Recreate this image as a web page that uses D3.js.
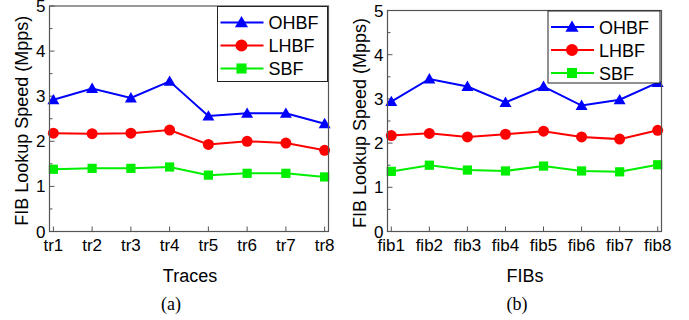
<!DOCTYPE html>
<meta charset="utf-8">
<title>FIB Lookup Speed</title>
<script src="https://d3js.org/d3.v7.min.js"></script>
<style>
  body { margin: 0; background: #fff; }
  text { font-family: "Liberation Sans", Arial, sans-serif; fill: #000; }
</style>
<body>
</body>
<script>
  width = 689;
  height = 320;

  // data
  const traces = ["tr1", "tr2", "tr3", "tr4", "tr5", "tr6", "tr7", "tr8"];
  const traceOHBF = [2.92, 3.17, 2.96, 3.33, 2.56, 2.62, 2.62, 2.39];
  const traceLHBF = [2.18, 2.17, 2.18, 2.25, 1.93, 2.00, 1.96, 1.80];
  const traceSBF  = [1.38, 1.40, 1.40, 1.43, 1.25, 1.29, 1.29, 1.21];

  const fibs = ["fib1", "fib2", "fib3", "fib4", "fib5", "fib6", "fib7", "fib8"];
  const fibOHBF = [2.94, 3.45, 3.28, 2.92, 3.28, 2.85, 2.98, 3.37];
  const fibLHBF = [2.17, 2.22, 2.14, 2.20, 2.27, 2.14, 2.09, 2.29];
  const fibSBF  = [1.36, 1.50, 1.39, 1.37, 1.48, 1.37, 1.35, 1.51];

  const seriesNames = ["OHBF", "LHBF", "SBF"];
  const yTicks = [0, 1, 2, 3, 4, 5];
  const yMinor = [0.5, 1.5, 2.5, 3.5, 4.5];

  const colors = { OHBF: "#0000ff", LHBF: "#ff0000", SBF: "#00ee00" };
  const shapes = { OHBF: d3.symbolTriangle, LHBF: d3.symbolCircle, SBF: d3.symbolSquare };
  const sizes  = { OHBF: 62, LHBF: 95, SBF: 85 };

  const svg = d3.select("body").append("svg")
      .attr("width", width).attr("height", height);

  ////////////////////////////////////////////////////////////
  ////////////////////// Draw one panel //////////////////////
  ////////////////////////////////////////////////////////////

  function panel(opt) {
    const x = d3.scalePoint().domain(opt.cats).range([opt.left, opt.right]).padding(0.1);
    const y = d3.scaleLinear().domain([0, 5]).range([opt.bottom, opt.top]);
    const g = svg.append("g");

    // ticks (inward)
    g.selectAll(".ymaj").data(yTicks).join("line")
      .attr("x1", opt.left).attr("x2", opt.left + 5)
      .attr("y1", d => y(d)).attr("y2", d => y(d))
      .attr("stroke", "#555").attr("stroke-width", 1);
    g.selectAll(".ymin").data(yMinor).join("line")
      .attr("x1", opt.left).attr("x2", opt.left + 3)
      .attr("y1", d => y(d)).attr("y2", d => y(d))
      .attr("stroke", "#555").attr("stroke-width", 1);
    g.selectAll(".xt").data(opt.cats).join("line")
      .attr("x1", d => x(d)).attr("x2", d => x(d))
      .attr("y1", opt.bottom).attr("y2", opt.bottom - 5)
      .attr("stroke", "#555").attr("stroke-width", 1);

    // tick labels
    g.selectAll(".yl").data(yTicks).join("text")
      .attr("x", opt.left - 4).attr("y", d => y(d) + 6)
      .attr("text-anchor", "end").style("font-size", "17px")
      .text(d => d);
    g.selectAll(".xl").data(opt.cats).join("text")
      .attr("x", d => x(d)).attr("y", opt.bottom + 19)
      .attr("text-anchor", "middle").style("font-size", "17px")
      .text(d => d);

    // axis titles
    g.append("text")
      .attr("transform", `translate(${opt.left - 28},${(opt.top + opt.bottom) / 2 + 2}) rotate(-90)`)
      .attr("text-anchor", "middle").attr("dy", "0.35em").style("font-size", "18px")
      .text("FIB Lookup Speed (Mpps)");
    g.append("text")
      .attr("x", opt.xTitleX).attr("y", opt.bottom + 50)
      .attr("text-anchor", "middle").style("font-size", "18px")
      .text(opt.xTitle);
    g.append("text")
      .attr("x", opt.capX).attr("y", opt.bottom + 78)
      .attr("text-anchor", "middle")
      .style("font-family", "'Liberation Serif', 'Times New Roman', serif").style("font-size", "18px")
      .text(opt.caption);

    // lines + markers
    const line = d3.line().x((d, i) => x(opt.cats[i])).y(d => y(d));
    seriesNames.forEach(name => {
      const vals = opt.data[name];
      g.append("path").datum(vals)
        .attr("d", line).attr("fill", "none")
        .attr("stroke", colors[name]).attr("stroke-width", 2);
      g.selectAll(".m" + name).data(vals).join("path")
        .attr("d", d3.symbol().type(shapes[name]).size(sizes[name]))
        .attr("transform", (d, i) => `translate(${x(opt.cats[i])},${y(d) + (name === "OHBF" ? 1 : 0)})`)
        .attr("fill", colors[name]);
    });

    // frame
    g.append("rect")
      .attr("x", opt.left).attr("y", opt.top)
      .attr("width", opt.right - opt.left).attr("height", opt.bottom - opt.top)
      .attr("fill", "none").attr("stroke", "#555").attr("stroke-width", 1.2);

    // legend
    const L = opt.legend;
    g.append("rect")
      .attr("x", L.x).attr("y", L.y).attr("width", L.w).attr("height", L.h)
      .attr("fill", "#fff").attr("stroke", "#222").attr("stroke-width", 1);
    seriesNames.forEach((name, i) => {
      const cy = L.y + 16 + i * 23;
      g.append("line")
        .attr("x1", L.x + 3).attr("x2", L.x + 46)
        .attr("y1", cy).attr("y2", cy)
        .attr("stroke", colors[name]).attr("stroke-width", 2);
      g.append("path")
        .attr("d", d3.symbol().type(shapes[name]).size(sizes[name] * 1.2))
        .attr("transform", `translate(${L.x + 24},${cy + (name === "OHBF" ? 1 : 0)})`)
        .attr("fill", colors[name]);
      g.append("text")
        .attr("x", L.x + 51).attr("y", cy + 6.5)
        .style("font-size", "18px")
        .text(name);
    });
  }

  panel({
    cats: traces,
    data: { OHBF: traceOHBF, LHBF: traceLHBF, SBF: traceSBF },
    left: 49.5, right: 328.5, top: 6, bottom: 231.5,
    xTitle: "Traces", xTitleX: 190, caption: "(a)", capX: 171,
    legend: { x: 217.5, y: 6.5, w: 110, h: 75 }
  });

  panel({
    cats: fibs,
    data: { OHBF: fibOHBF, LHBF: fibLHBF, SBF: fibSBF },
    left: 387.5, right: 661.5, top: 10.5, bottom: 231.5,
    xTitle: "FIBs", xTitleX: 525, caption: "(b)", capX: 517,
    legend: { x: 548, y: 11, w: 112, h: 72 }
  });
</script>
